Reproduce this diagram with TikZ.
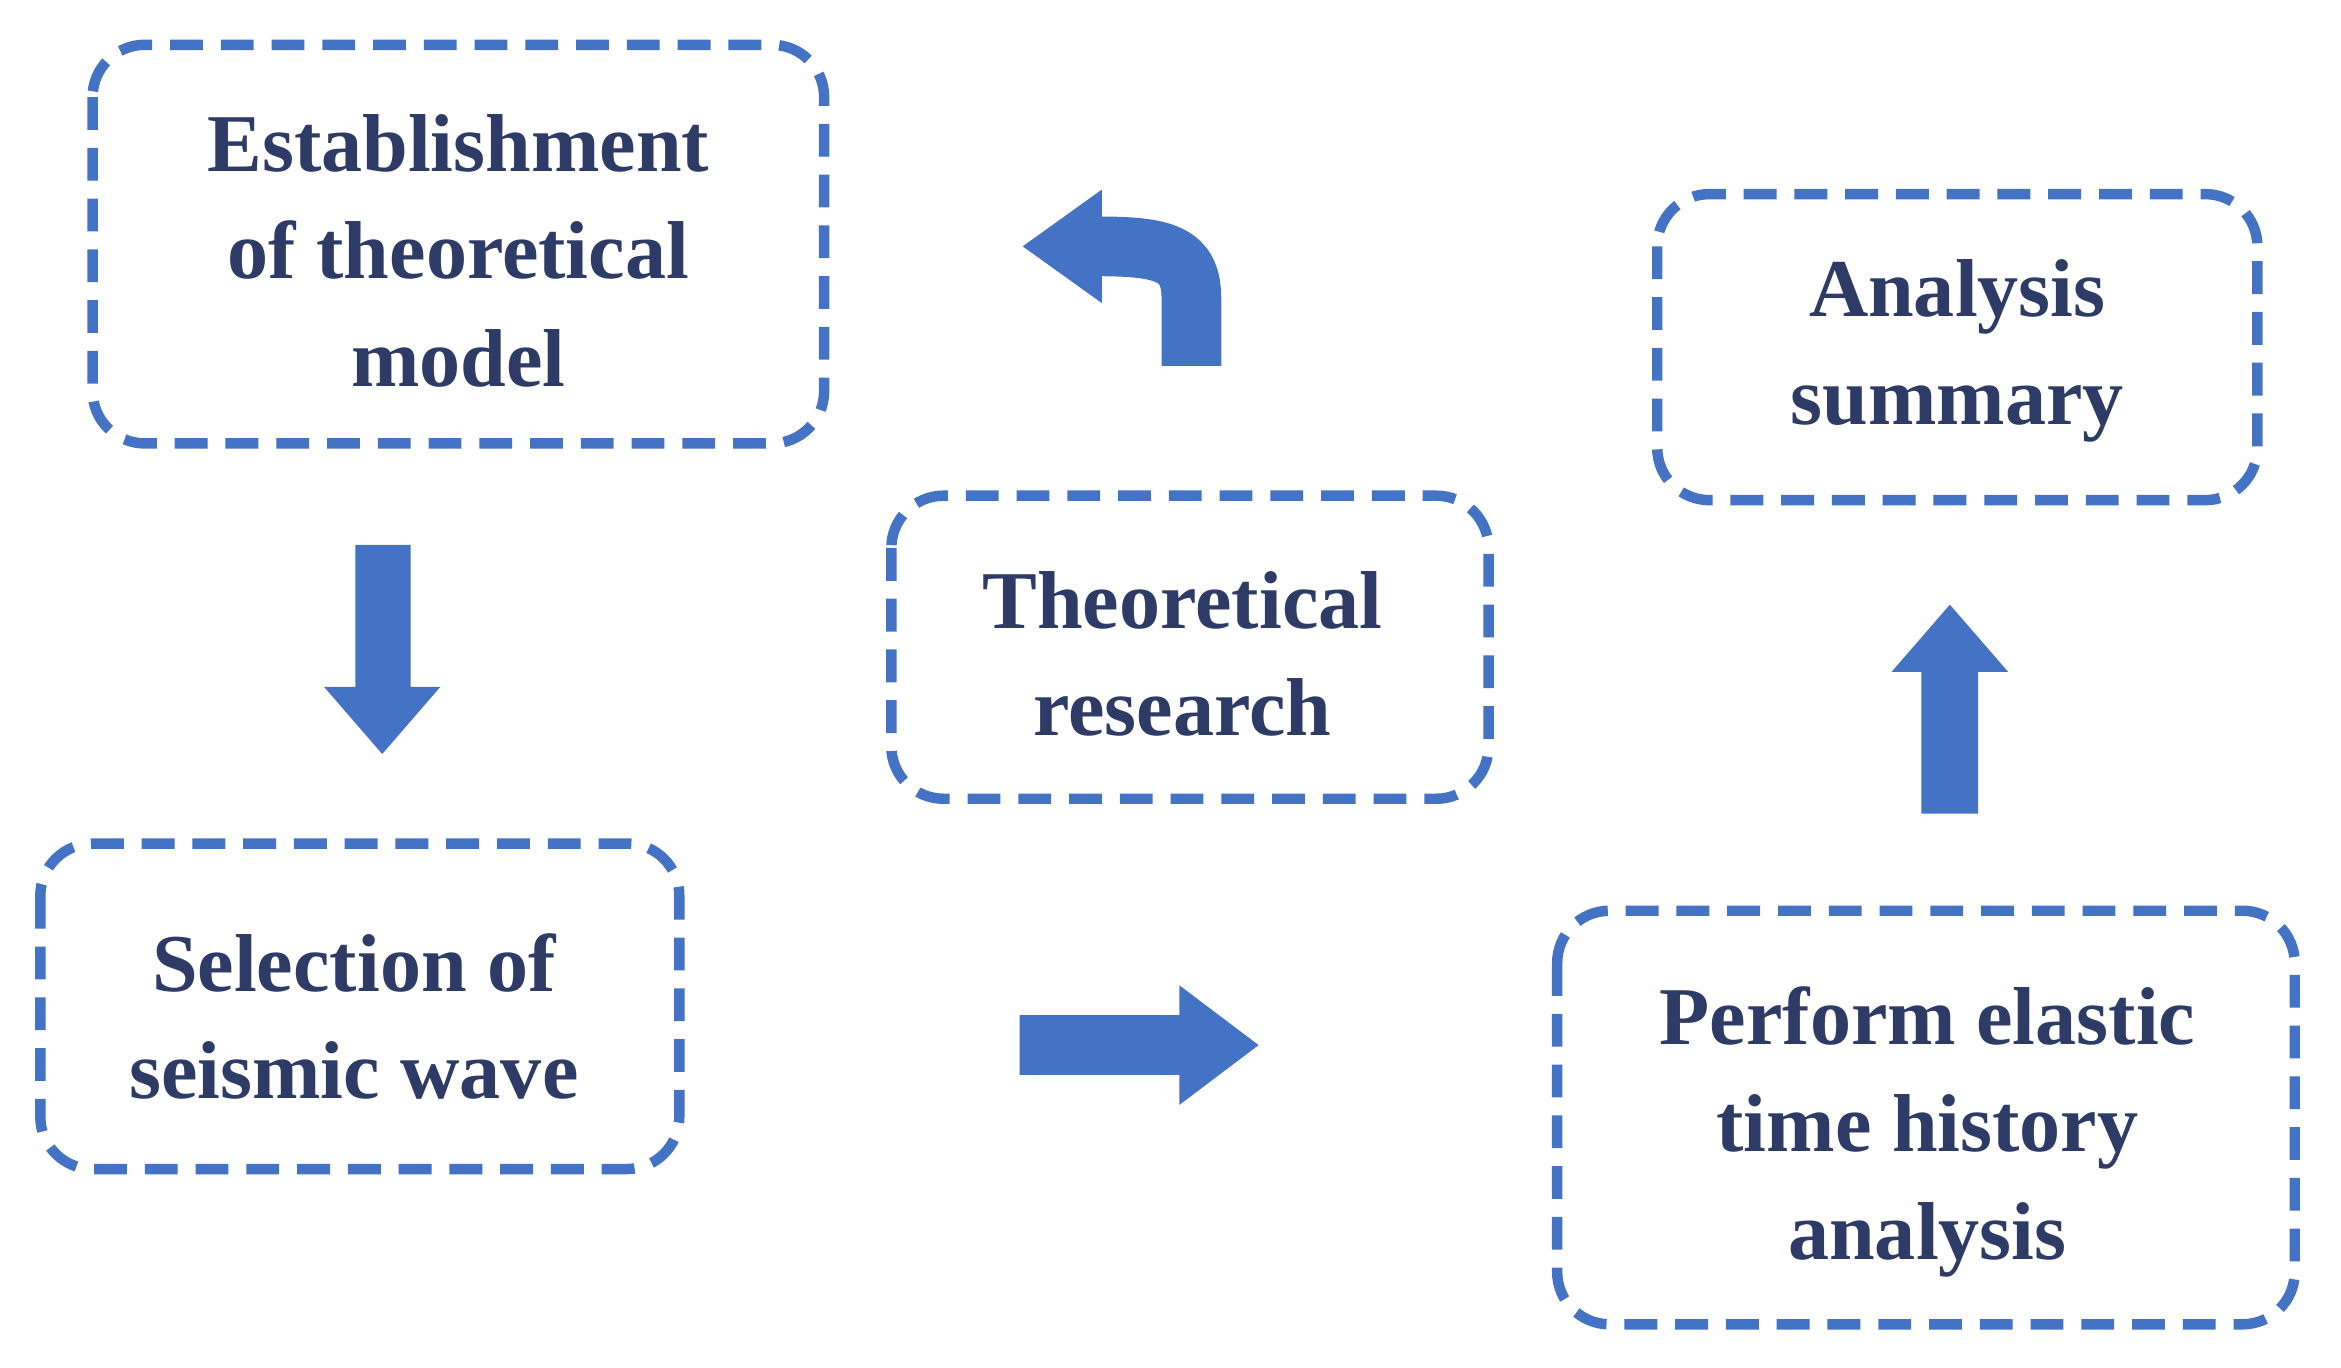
\documentclass[tikz,border=0pt]{standalone}
\usepackage{fontspec}
\setmainfont{Liberation Serif}
\usetikzlibrary{arrows.meta}
\definecolor{bx}{HTML}{4472C4}
\definecolor{tx}{HTML}{2E3B66}
\begin{document}
\begin{tikzpicture}[x=1pt,y=-1pt,
 box/.style={draw=bx,line width=7pt,dash pattern=on 22pt off 12pt,rounded corners=35pt},
 lbl/.style={text=tx,font=\bfseries\fontsize{55}{72}\selectfont,align=center},
 arr/.style={fill=bx,draw=none}]
\useasboundingbox (0,0) rectangle (1568,916);
\draw[box] (62,30) rectangle (552,297);
\node[lbl] (est) at (307,168) {Establishment\\of theoretical\\model};
\draw[box] (597,332) rectangle (997,535);
\node[lbl] (theo) at (792,438) {Theoretical\\research};
\draw[box] (1110,130) rectangle (1512,335);
\node[lbl] (ana) at (1311,235) {Analysis\\summary};
\draw[box] (27,565) rectangle (455,783);
\node[lbl] (sel) at (237,681) {Selection of\\seismic wave};
\draw[box] (1043,610) rectangle (1537,887);
\node[lbl] (perf) at (1291,758) {Perform elastic\\time history\\analysis};
% down arrow
\fill[arr] (238,365) -- (275,365) -- (275,460) -- (295,460) -- (256,505) -- (217,460) -- (238,460) -- cycle;
% right arrow
\fill[arr] (683,680) -- (790,680) -- (790,660) -- (843,700) -- (790,740) -- (790,720) -- (683,720) -- cycle;
% up arrow
\fill[arr] (1287,545) -- (1325,545) -- (1325,450) -- (1345,450) -- (1306,405) -- (1267,450) -- (1287,450) -- cycle;
% curved arrow
\draw[bx,line width=40pt] (798,245) -- (798,200) .. controls (798,170) and (780,165) .. (735,165);
\fill[arr] (738,127) -- (685,165) -- (738,203) -- cycle;
\end{tikzpicture}
\end{document}
